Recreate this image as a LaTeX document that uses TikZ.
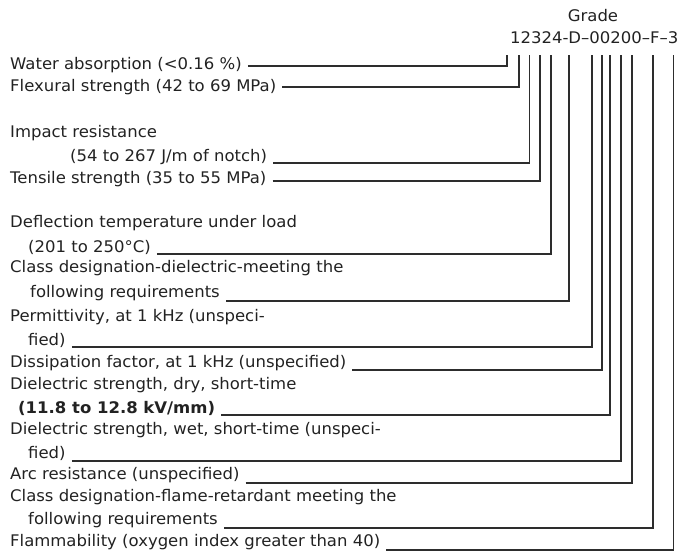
\documentclass[tikz,border=0pt]{standalone}
\usepackage{fontspec}
\setmainfont{DejaVu Sans}[FakeStretch=1.03]
\definecolor{ink}{HTML}{222222}

\begin{document}
\begin{tikzpicture}[x=1pt, y=-1pt,
  txt/.style={anchor=west, inner sep=0pt, text=ink, font=\fontsize{16}{19}\selectfont},
  lead/.style={line width=1.4pt, draw=ink!95}]
  \useasboundingbox (0,0) rectangle (679,555);
  \node[txt, anchor=center] (grade) at (593,16) {Grade};
  \node[txt, anchor=east] (code) at (678.5,38) {12324-D–00200–F–3};
  \coordinate (v1) at (507,55);
  \coordinate (v2) at (519,55);
  \coordinate (v3) at (529.5,55);
  \coordinate (v4) at (540,55);
  \coordinate (v5) at (551,55);
  \coordinate (v6) at (569,55);
  \coordinate (v7) at (592,55);
  \coordinate (v8) at (602,55);
  \coordinate (v9) at (610,55);
  \coordinate (v10) at (621,55);
  \coordinate (v11) at (632,55);
  \coordinate (v12) at (653,55);
  \coordinate (v13) at (673.5,55);
  \node[txt] (t1) at (10,65) {Water absorption (<0.16 \%)};
  \node[txt] (t2) at (10,87) {Flexural strength (42 to 69 MPa)};
  \node[txt] (t3) at (10,133) {Impact resistance};
  \node[txt] (t4) at (70,157) {(54 to 267 J/m of notch)};
  \node[txt] (t5) at (10,179) {Tensile strength (35 to 55 MPa)};
  \node[txt] (t6) at (10,223) {Deflection temperature under load};
  \node[txt] (t7) at (28,247) {(201 to 250°C)};
  \node[txt] (t8) at (10,268) {Class designation-dielectric-meeting the};
  \node[txt] (t9) at (30,293) {following requirements};
  \node[txt] (t10) at (10,317) {Permittivity, at 1 kHz (unspeci-};
  \node[txt] (t11) at (28,340) {fied)};
  \node[txt] (t12) at (10,363) {Dissipation factor, at 1 kHz (unspecified)};
  \node[txt] (t13) at (10,385) {Dielectric strength, dry, short-time};
  \node[txt, font=\fontsize{16}{19}\selectfont\bfseries] (t14) at (18,408) {(11.8 to 12.8 kV/mm)};
  \node[txt] (t15) at (10,430) {Dielectric strength, wet, short-time (unspeci-};
  \node[txt] (t16) at (28,453) {fied)};
  \node[txt] (t17) at (10,475) {Arc resistance (unspecified)};
  \node[txt] (t18) at (10,497) {Class designation-flame-retardant meeting the};
  \node[txt] (t19) at (28,520) {following requirements};
  \node[txt] (t20) at (10,542) {Flammability (oxygen index greater than 40)};
  \draw[lead] (t1.east |- 0,66) ++(6,0) -| (v1);
  \draw[lead] (t2.east |- 0,87) ++(6,0) -| (v2);
  \draw[lead] (t4.east |- 0,163) ++(6,0) -| (v3);
  \draw[lead] (t5.east |- 0,181) ++(6,0) -| (v4);
  \draw[lead] (t7.east |- 0,254) ++(6,0) -| (v5);
  \draw[lead] (t9.east |- 0,301) ++(6,0) -| (v6);
  \draw[lead] (t11.east |- 0,347) ++(6,0) -| (v7);
  \draw[lead] (t12.east |- 0,370) ++(6,0) -| (v8);
  \draw[lead] (t14.east |- 0,415) ++(6,0) -| (v9);
  \draw[lead] (t16.east |- 0,461) ++(6,0) -| (v10);
  \draw[lead] (t17.east |- 0,483) ++(6,0) -| (v11);
  \draw[lead] (t19.east |- 0,528) ++(6,0) -| (v12);
  \draw[lead] (t20.east |- 0,550) ++(6,0) -| (v13);
\end{tikzpicture}
\end{document}
